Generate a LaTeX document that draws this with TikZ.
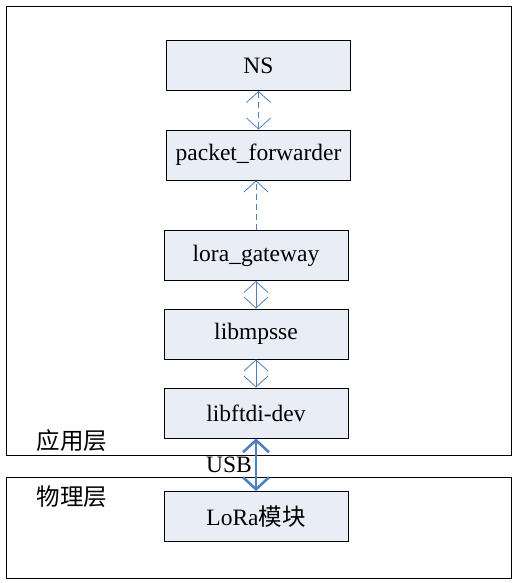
\documentclass[tikz,border=0pt]{standalone}
\usepackage{fontspec}
\setmainfont{Liberation Serif}
\newfontfamily\cjk{Noto Sans CJK SC}
\usetikzlibrary{arrows.meta}
\definecolor{boxfill}{RGB}{233,238,246}
\definecolor{linkblue}{RGB}{79,129,189}

\begin{document}
\begin{tikzpicture}[x=1pt,y=-1pt,
        blk/.style={draw, fill=boxfill, line width=0.9pt,
                        minimum width=184pt, minimum height=50pt,
                        inner sep=0pt, font=\fontsize{23.5}{28}\selectfont},
        lbl/.style={font=\fontsize{23.5}{28}\selectfont, inner sep=0pt},
        link/.style={linkblue, line width=0.8pt,
                        arrows={Straight Barb[length=11pt,width=24pt]-Straight Barb[length=11pt,width=24pt]}},
        usb/.style={linkblue, line width=2.6pt,
                        arrows={Straight Barb[length=12pt,width=26pt]-Straight Barb[length=12pt,width=26pt]}}]
    \useasboundingbox (0,0) rectangle (517,583);

    % layers
    \draw[line width=0.9pt] (6,6) rectangle (511,455);
    \draw[line width=0.9pt] (6,477) rectangle (511,578);
    \node[lbl] (app) at (72,441) {\cjk 应用层};
    \node[lbl] (phy) at (72,497) {\cjk 物理层};

    % blocks
    \node[blk] (ns) at (258.5,65.5) {NS};
    \node[blk] (pf) at (258.5,155) {packet\_forwarder};
    \node[blk] (lg) at (256,255.5) {lora\_gateway};
    \node[blk] (mp) at (256,334) {libmpsse};
    \node[blk] (ft) at (256,413) {libftdi-dev};
    \node[blk] (lr) at (256,516.5) {LoRa{\cjk 模块}};

    % links
    \draw[link, dashed, dash pattern=on 6pt off 4pt] (ns.south) -- (pf.north);
    \draw[link, -{Straight Barb[length=11pt,width=24pt]}, dashed, dash pattern=on 6pt off 4pt]
        (lg.north) -- (lg.north |- pf.south);
    \draw[link] (lg.south) -- (mp.north);
    \draw[link] (mp.south) -- (ft.north);
    \draw[usb] (ft.south) -- (lr.north);
    \node[lbl, anchor=east] (usbtxt) at (252,465) {USB};
\end{tikzpicture}
\end{document}
